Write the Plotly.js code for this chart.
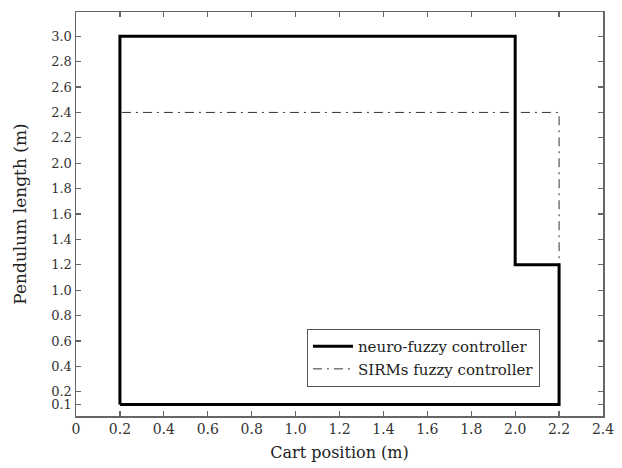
<!DOCTYPE html>
<html>
<head>
<meta charset="utf-8">
<script src="https://cdn.plot.ly/plotly-3.0.1.min.js"></script>
<style>html,body{margin:0;padding:0;background:#fff;}#chart{width:622px;height:468px;}</style>
</head>
<body>
<div id="chart"></div>
<script>
const neuroX = [0.2, 0.2, 2.0, 2.0, 2.2, 2.2, 0.2];
const neuroY = [0.1, 3.0, 3.0, 1.2, 1.2, 0.1, 0.1];
const sirmsX = [0.2, 0.2, 2.2, 2.2];
const sirmsY = [0.1, 2.4, 2.4, 0.1];
const xTicks = [0, 0.2, 0.4, 0.6, 0.8, 1.0, 1.2, 1.4, 1.6, 1.8, 2.0, 2.2, 2.4];
const xTickText = ["0", "0.2", "0.4", "0.6", "0.8", "1.0", "1.2", "1.4", "1.6", "1.8", "2.0", "2.2", "2.4"];
const yTicks = [0.1, 0.2, 0.4, 0.6, 0.8, 1.0, 1.2, 1.4, 1.6, 1.8, 2.0, 2.2, 2.4, 2.6, 2.8, 3.0];
const yTickText = ["0.1", "0.2", "0.4", "0.6", "0.8", "1.0", "1.2", "1.4", "1.6", "1.8", "2.0", "2.2", "2.4", "2.6", "2.8", "3.0"];

const font = "DejaVu Serif";
const traces = [
  {x: sirmsX, y: sirmsY, mode: 'lines', name: 'SIRMs fuzzy controller', legendrank: 2,
   line: {color: '#333', width: 1, dash: '9px,5px,2px,5px'}},
  {x: neuroX, y: neuroY, mode: 'lines', name: 'neuro-fuzzy controller', legendrank: 1,
   line: {color: '#000', width: 3}}
];
const axisCommon = {
  showgrid: false, zeroline: false, showline: true, linecolor: '#666', linewidth: 1.5,
  mirror: 'ticks', ticks: 'inside', ticklen: 5, tickcolor: '#666', tickwidth: 1.2
};
const layout = {
  width: 622, height: 468,
  margin: {l: 76, r: 19, t: 12, b: 52},
  paper_bgcolor: '#fff', plot_bgcolor: '#fff',
  showlegend: true,
  legend: {x: 0.88, y: 0.072, xanchor: 'right', yanchor: 'bottom',
    bordercolor: '#555', borderwidth: 1.2, bgcolor: '#fff', itemwidth: 40,
    font: {family: font, size: 15, color: '#222'}, tracegroupgap: 0},
  xaxis: Object.assign({}, axisCommon, {range: [0, 2.4], tickvals: xTicks, ticktext: xTickText,
    tickfont: {family: font, size: 14, color: '#333'},
    title: {text: 'Cart position (m)', font: {family: font, size: 16, color: '#222'}, standoff: 10}}),
  yaxis: Object.assign({}, axisCommon, {range: [0.009, 3.191], tickvals: yTicks, ticktext: yTickText,
    tickfont: {family: font, size: 13, color: '#333'},
    title: {text: 'Pendulum length (m)', font: {family: font, size: 17, color: '#222'}, standoff: 20}})
};
Plotly.newPlot('chart', traces, layout, {displayModeBar: false, staticPlot: true});
</script>
</body>
</html>
